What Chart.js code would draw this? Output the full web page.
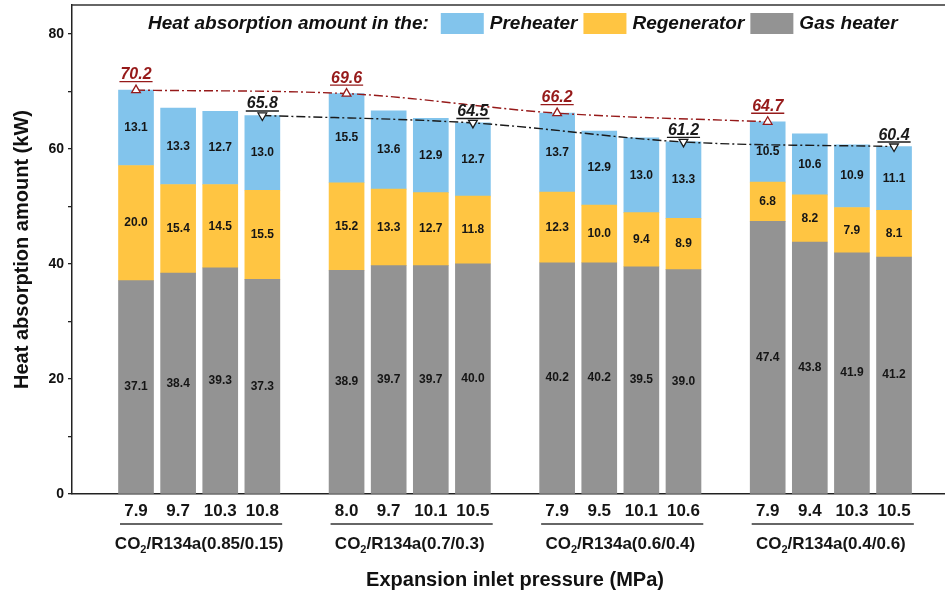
<!DOCTYPE html>
<html>
<head>
<meta charset="utf-8">
<script src="https://cdn.jsdelivr.net/npm/chart.js@4.4.1/dist/chart.umd.min.js"></script>
<style>
  html, body { margin: 0; padding: 0; background: #ffffff; }
  #wrap { width: 945px; height: 596px; position: relative; }
</style>
</head>
<body>
<div id="wrap"><canvas id="c" width="945" height="596"></canvas></div>
<script>
// ---------------- data ----------------
const groupLabels = ['CO2/R134a(0.85/0.15)', 'CO2/R134a(0.7/0.3)', 'CO2/R134a(0.6/0.4)', 'CO2/R134a(0.4/0.6)'];
const pressureLabels = ['7.9','9.7','10.3','10.8', '8.0','9.7','10.1','10.5', '7.9','9.5','10.1','10.6', '7.9','9.4','10.3','10.5'];
const gasHeater   = [37.1, 38.4, 39.3, 37.3,  38.9, 39.7, 39.7, 40.0,  40.2, 40.2, 39.5, 39.0,  47.4, 43.8, 41.9, 41.2];
const regenerator = [20.0, 15.4, 14.5, 15.5,  15.2, 13.3, 12.7, 11.8,  12.3, 10.0,  9.4,  8.9,   6.8,  8.2,  7.9,  8.1];
const preheater   = [13.1, 13.3, 12.7, 13.0,  15.5, 13.6, 12.9, 12.7,  13.7, 12.9, 13.0, 13.3,  10.5, 10.6, 10.9, 11.1];
const firstTotals = [70.2, 69.6, 66.2, 64.7];
const lastTotals  = [65.8, 64.5, 61.2, 60.4];
const yTicks = [0, 20, 40, 60, 80];

// --------------- helpers ---------------
const FONT = "'Liberation Sans', Arial, sans-serif";
const BAR_PER_GROUP = 4;
const slot = i => Math.floor(i / BAR_PER_GROUP) * (BAR_PER_GROUP + 1) + (i % BAR_PER_GROUP);
const series = arr => arr.map((v, i) => ({ x: slot(i), y: v }));
const firstSeries = firstTotals.map((v, g) => ({ x: g * (BAR_PER_GROUP + 1), y: v }));
const lastSeries  = lastTotals.map((v, g) => ({ x: g * (BAR_PER_GROUP + 1) + BAR_PER_GROUP - 1, y: v }));

const COL_PRE = '#82C4EC', COL_REG = '#FFC542', COL_GAS = '#939393';
const RED = '#961A1A', BLACK = '#1a1a1a';

const overlay = {
  id: 'overlay',
  afterDatasetsDraw(chart) {
    const ctx = chart.ctx;
    ctx.save();
    // segment values
    ctx.font = `bold 12px ${FONT}`;
    ctx.fillStyle = '#151515';
    ctx.textAlign = 'center';
    ctx.textBaseline = 'middle';
    chart.data.datasets.forEach((ds, di) => {
      if (ds.type !== 'bar') return;
      const meta = chart.getDatasetMeta(di);
      meta.data.forEach((el, i) => {
        const p = el.getProps(['x', 'y', 'base'], true);
        ctx.fillText(ds.data[i].y.toFixed(1), p.x, (p.y + p.base) / 2);
      });
    });
    // total labels over lines
    chart.data.datasets.forEach((ds, di) => {
      if (ds.type !== 'line') return;
      const meta = chart.getDatasetMeta(di);
      const col = ds.borderColor;
      const off = ds.labelOffset;
      ctx.font = `italic bold 16px ${FONT}`;
      ctx.fillStyle = col;
      ctx.strokeStyle = col;
      ctx.lineWidth = 1.4;
      ctx.textBaseline = 'alphabetic';
      meta.data.forEach((el, i) => {
        const t = ds.data[i].y.toFixed(1);
        const base = el.y - off + 6;
        ctx.fillText(t, el.x, base);
        const w = ctx.measureText(t).width;
        ctx.beginPath();
        ctx.moveTo(el.x - w / 2 - 1, base + 2.5);
        ctx.lineTo(el.x + w / 2 + 1, base + 2.5);
        ctx.stroke();
      });
    });
    ctx.restore();
  },
  afterDraw(chart) {
    const ctx = chart.ctx;
    const a = chart.chartArea;
    const xs = chart.scales.x;
    ctx.save();
    // top frame
    ctx.strokeStyle = '#333';
    ctx.lineWidth = 1.5;
    ctx.beginPath();
    ctx.moveTo(a.left, a.top);
    ctx.lineTo(a.right, a.top);
    ctx.stroke();

    // legend
    ctx.textBaseline = 'middle';
    ctx.textAlign = 'left';
    ctx.font = `italic bold 19px ${FONT}`;
    ctx.fillStyle = '#111';
    let lx = 148;
    const ly = 24;
    const title = 'Heat absorption amount in the:';
    ctx.fillText(title, lx, ly);
    lx += ctx.measureText(title).width + 12;
    const items = [['Preheater', COL_PRE], ['Regenerator', COL_REG], ['Gas heater', COL_GAS]];
    items.forEach(([name, col]) => {
      ctx.fillStyle = col;
      ctx.fillRect(lx, 13, 43, 21);
      lx += 43 + 6;
      ctx.fillStyle = '#111';
      ctx.fillText(name, lx, ly);
      lx += ctx.measureText(name).width + 6;
    });

    // pressure tick labels
    ctx.textAlign = 'center';
    ctx.font = `bold 17px ${FONT}`;
    ctx.fillStyle = '#151515';
    pressureLabels.forEach((t, i) => {
      ctx.fillText(t, xs.getPixelForValue(slot(i)), 511);
    });

    // group underlines and group labels
    groupLabels.forEach((lab, g) => {
      const x0 = xs.getPixelForValue(g * (BAR_PER_GROUP + 1) - 0.38);
      const x1 = xs.getPixelForValue(g * (BAR_PER_GROUP + 1) + BAR_PER_GROUP - 1 + 0.47);
      ctx.strokeStyle = '#333';
      ctx.lineWidth = 1.5;
      ctx.beginPath();
      ctx.moveTo(x0, 524);
      ctx.lineTo(x1, 524);
      ctx.stroke();
      const cx = (xs.getPixelForValue(g * (BAR_PER_GROUP + 1)) + xs.getPixelForValue(g * (BAR_PER_GROUP + 1) + BAR_PER_GROUP - 1)) / 2;
      const pre = lab.slice(0, 2), sub = lab.slice(2, 3), rest = lab.slice(3);
      const big = `bold 17px ${FONT}`, small = `bold 11px ${FONT}`;
      ctx.font = big; const w1 = ctx.measureText(pre).width, w3 = ctx.measureText(rest).width;
      ctx.font = small; const w2 = ctx.measureText(sub).width;
      let sx = cx - (w1 + w2 + w3) / 2;
      ctx.textAlign = 'left';
      ctx.font = big; ctx.fillText(pre, sx, 544); sx += w1;
      ctx.font = small; ctx.fillText(sub, sx, 550); sx += w2;
      ctx.font = big; ctx.fillText(rest, sx, 544);
      ctx.textAlign = 'center';
    });

    // x axis title
    ctx.font = `bold 20px ${FONT}`;
    ctx.fillStyle = '#111';
    ctx.textAlign = 'center';
    const midX = (xs.getPixelForValue(0) + xs.getPixelForValue(slot(pressureLabels.length - 1))) / 2;
    ctx.fillText('Expansion inlet pressure (MPa)', midX, 580);
    ctx.restore();
  }
};

new Chart(document.getElementById('c'), {
  data: {
    datasets: [
      {
        type: 'line', label: 'first', data: firstSeries, stack: 'first', order: 0,
        borderColor: RED, borderWidth: 1.4, borderDash: [9, 3, 2, 3],
        pointStyle: 'triangle', pointRadius: 5, pointBorderWidth: 1.3,
        pointBackgroundColor: '#fff', pointBorderColor: RED,
        cubicInterpolationMode: 'monotone', fill: false, labelOffset: 17
      },
      {
        type: 'line', label: 'last', data: lastSeries, stack: 'last', order: 0,
        borderColor: BLACK, borderWidth: 1.4, borderDash: [9, 3, 2, 3],
        pointStyle: 'triangle', pointRotation: 180, pointRadius: 5, pointBorderWidth: 1.3,
        pointBackgroundColor: '#fff', pointBorderColor: BLACK,
        cubicInterpolationMode: 'monotone', fill: false, labelOffset: 13
      },
      { type: 'bar', label: 'Gas heater', data: series(gasHeater), backgroundColor: COL_GAS, stack: 'bars', order: 1, barThickness: 35 },
      { type: 'bar', label: 'Regenerator', data: series(regenerator), backgroundColor: COL_REG, stack: 'bars', order: 1, barThickness: 35 },
      { type: 'bar', label: 'Preheater', data: series(preheater), backgroundColor: COL_PRE, stack: 'bars', order: 1, barThickness: 35 }
    ]
  },
  options: {
    responsive: false,
    animation: false,
    devicePixelRatio: 1,
    layout: { autoPadding: false, padding: { top: 5, right: 0, left: 0, bottom: 0 } },
    plugins: { legend: { display: false }, tooltip: { enabled: false } },
    scales: {
      x: {
        type: 'linear', stacked: true, offset: false, min: -1.52, max: 19.21,
        ticks: { display: false },
        grid: { display: false, offset: false },
        border: { display: true, color: '#222', width: 1.5 },
        afterFit(s) { s.height = 102; s.paddingLeft = 0; s.paddingRight = 0; }
      },
      y: {
        type: 'linear', stacked: true, min: 0, max: 85,
        ticks: {
          stepSize: 10, includeBounds: false, padding: 4,
          color: '#111', font: { family: FONT, weight: 'bold', size: 14 },
          callback: v => (yTicks.includes(v) ? String(v) : '')
        },
        grid: { drawOnChartArea: false, drawTicks: true, tickLength: 4, color: '#222', lineWidth: 1.3 },
        border: { display: true, color: '#222', width: 1.5 },
        title: {
          display: true, text: 'Heat absorption amount (kW)', color: '#111',
          font: { family: FONT, weight: 'bold', size: 20 }, padding: { top: 10, bottom: 0 }
        },
        afterFit(s) { s.width = 72; s.paddingTop = 0; s.paddingBottom = 0; }
      }
    }
  },
  plugins: [overlay]
});
</script>
</body>
</html>
